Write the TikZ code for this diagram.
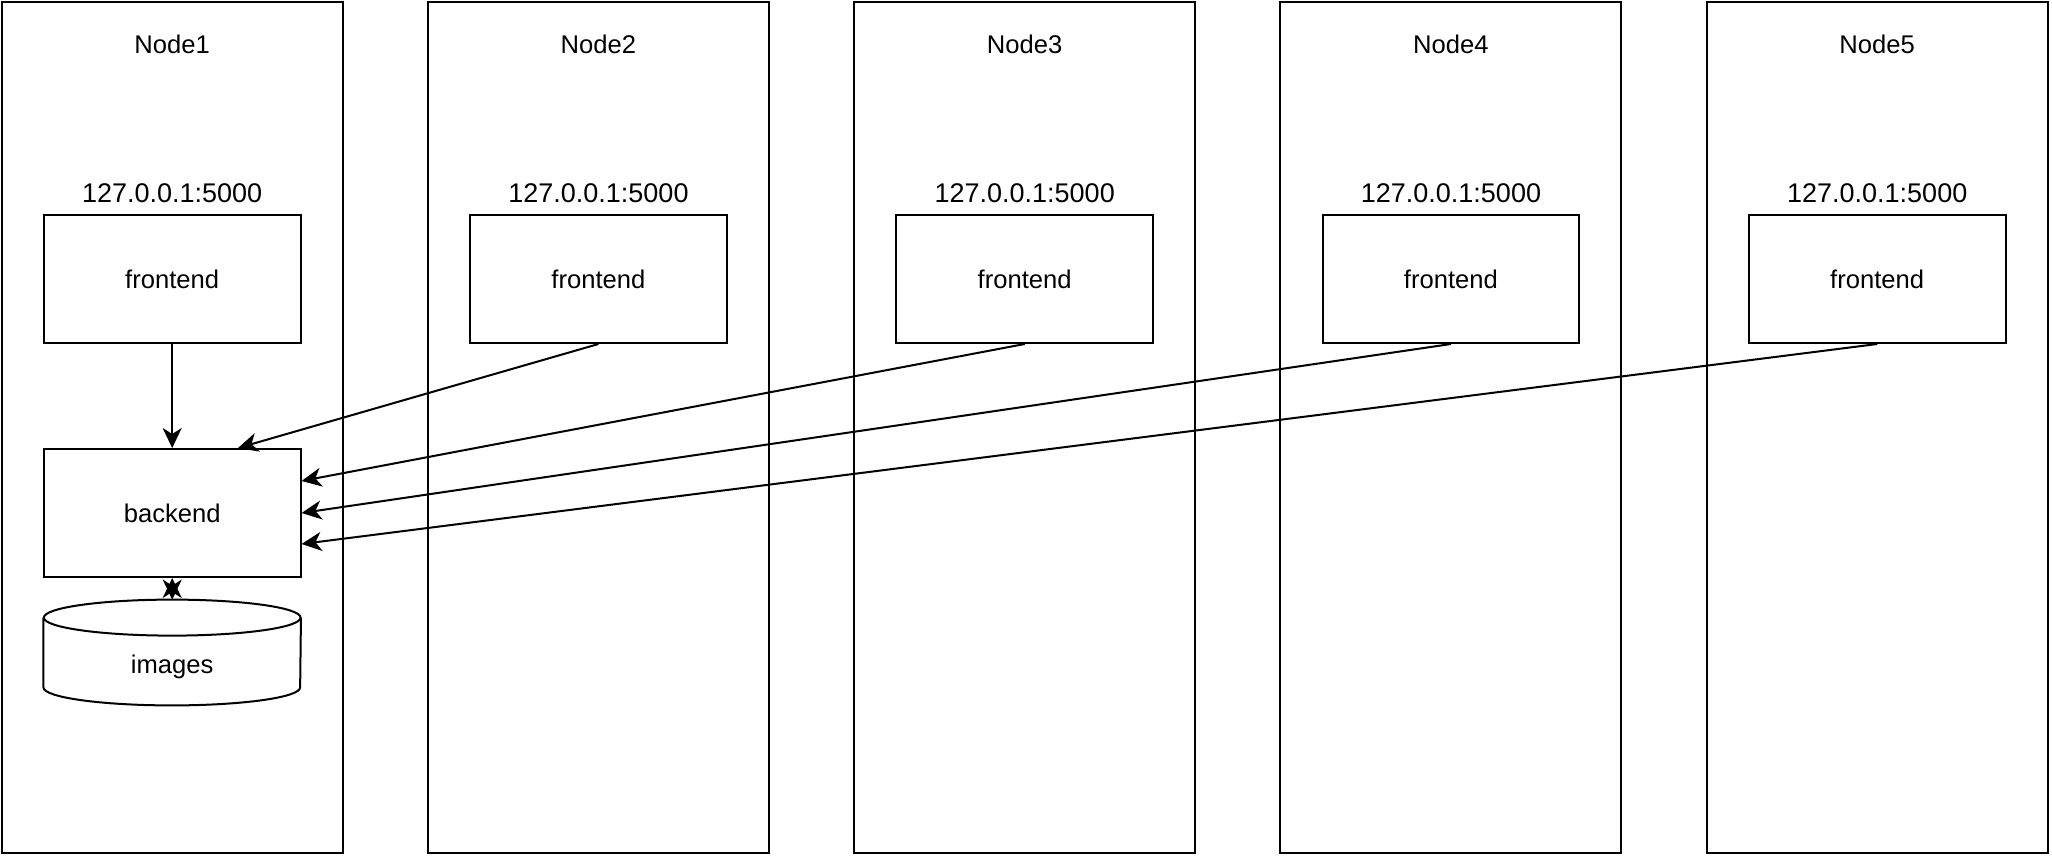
\documentclass[tikz,border=0pt]{standalone}
\usepackage{fontspec}
\setmainfont{Liberation Sans}
\usetikzlibrary{arrows.meta,calc}
\begin{document}
\begin{tikzpicture}[x=0.5pt,y=-0.5pt,
  container/.style={draw, line width=1pt, minimum width=170.5pt, minimum height=425.5pt, inner sep=0pt},
  box/.style={draw, line width=1pt, fill=white, minimum width=128.35pt, minimum height=64pt, inner sep=0pt, font=\fontsize{12.8}{14}\selectfont},
  lbl/.style={inner sep=0pt, font=\fontsize{12.8}{14}\selectfont},
  iplbl/.style={inner sep=0pt, font=\fontsize{13.5}{15}\selectfont},
  tip/.tip={Stealth[length=10pt,width=9.5pt,inset=3pt]},
  conn/.style={line width=1pt, -tip},
  dconn/.style={line width=1pt, tip-tip},
]
\useasboundingbox (0,0) rectangle (2052,858);
\foreach \i/\cx in {1/172.2, 2/598.45, 3/1024.7, 4/1450.95, 5/1877.2} {
  \node[container] (n\i) at (\cx,427.5) {};
  \node[lbl] (t\i) at (\cx,44) {Node\i};
  \node[iplbl] (ip\i) at (\cx,193) {127.0.0.1:5000};
  \node[box] (f\i) at (\cx,279) {frontend};
}
\node[box] (be) at (172.2,513) {backend};
\node[draw=none, minimum width=128.35pt, minimum height=52.5pt, inner sep=0pt] (img) at (172.2,652.5) {};
\draw[line width=1pt] ($(img.north west)+(0,18)$) -- ($(img.south west)+(0,-18)$)
  arc[start angle=180, end angle=360, x radius=64.175pt, y radius=9pt]
  -- ($(img.north east)+(0,18)$);
\draw[line width=1pt] ($(img.north)+(0,18)$) ellipse [x radius=64.175pt, y radius=9pt];
\node[lbl] (imgt) at ($(img.center)+(0,14.5)$) {images};

\draw[conn] (f1.south) -- (be.north);
\draw[conn] (f2.south) -- ($(be.north)+(65.8,0)$);
\draw[conn] (f3.south) -- ($(be.east)+(0,-32)$);
\draw[conn] (f4.south) -- (be.east);
\draw[conn] (f5.south) -- ($(be.east)+(0,31)$);
\draw[dconn] (be.south) -- (img.north);
\end{tikzpicture}
\end{document}
